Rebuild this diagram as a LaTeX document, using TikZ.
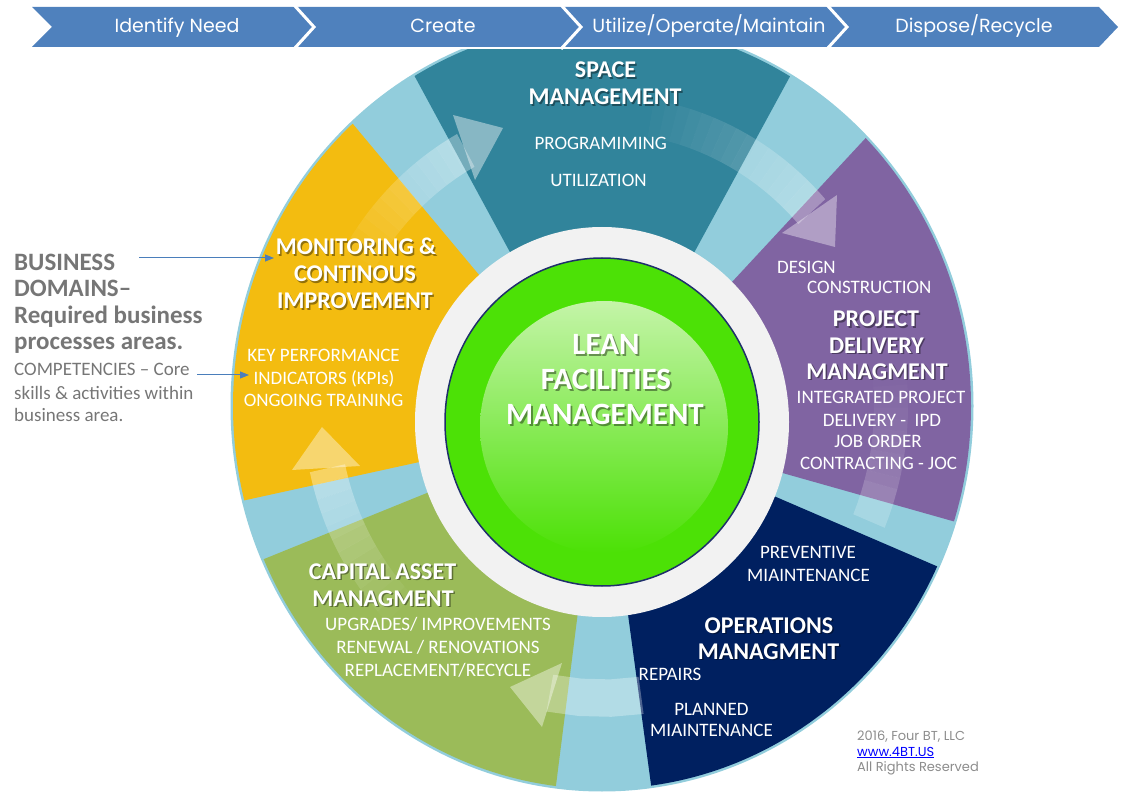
\documentclass[tikz,border=0pt]{standalone}
\usepackage{fontspec}
\setmainfont{Carlito}
\newfontfamily\gothic{Poppins}
\usetikzlibrary{arrows.meta}
\definecolor{banner}{HTML}{4F81BD}
\definecolor{lblue}{HTML}{92CDDC}
\definecolor{steal}{HTML}{31849B}
\definecolor{spurple}{HTML}{8064A2}
\definecolor{snavy}{HTML}{002060}
\definecolor{sgreen}{HTML}{9BBB59}
\definecolor{syellow}{HTML}{F3BC10}
\definecolor{ringgray}{HTML}{F2F2F2}
\definecolor{lime}{HTML}{4CE106}
\definecolor{limeline}{HTML}{1F2F6B}
\definecolor{hlA}{HTML}{C4F4A8}
\definecolor{hlB}{HTML}{86E858}
\definecolor{txtgray}{HTML}{767676}
\definecolor{arrowblue}{HTML}{4A7EBB}
\definecolor{cpgray}{HTML}{8C8C8C}

\newcommand{\segwedge}[3]{\fill[#1] (602,422) -- ({602+800*cos(#2)},{422-832*sin(#2)}) -- ({602+800*cos((#2+#3)/2)},{422-832*sin((#2+#3)/2)}) -- ({602+800*cos(#3)},{422-832*sin(#3)}) -- cycle;}
\newcommand{\shaft}[6]{%
\foreach \i in {1,...,#6}{%
 \pgfmathsetmacro{\angA}{#1+(#2-#1)*(\i-1)/#6}%
 \pgfmathsetmacro{\angB}{#1+(#2-#1)*\i/#6}%
 \pgfmathsetmacro{\opac}{#5*\i/#6}%
 \fill[white,fill opacity=\opac] plot[domain=\angA:\angB,samples=4] ({602+#4*cos(\x)},{406-1.04*#4*sin(\x)}) -- plot[domain=\angB:\angA,samples=4] ({602+#3*cos(\x)},{406-1.04*#3*sin(\x)}) -- cycle;}}

\tikzset{
  ttl/.style={text=white, font=\bfseries\fontsize{24}{27}\selectfont, anchor=base, inner sep=0pt},
  ttlsh/.style={ttl, text=black, text opacity=0.4, xshift=1.5pt, yshift=-1.5pt},
  big/.style={ttl, font=\bfseries\fontsize{31}{35}\selectfont},
  bigsh/.style={big, text=black, text opacity=0.4, xshift=1.8pt, yshift=-1.8pt},
  sub/.style={text=white, font=\fontsize{19}{23}\selectfont, anchor=base, inner sep=0pt},
  subw/.style={sub, anchor=base west},
  bnr/.style={text=white, font=\gothic\fontsize{19}{22}\selectfont, anchor=base, inner sep=0pt},
  lbold/.style={text=txtgray, font=\bfseries\fontsize{25}{27}\selectfont, anchor=base west, inner sep=0pt},
  lreg/.style={text=txtgray, font=\fontsize{19}{23}\selectfont, anchor=base west, inner sep=0pt},
  cpr/.style={text=cpgray, font=\gothic\fontsize{13}{15}\selectfont, anchor=base west, inner sep=0pt},
  pointer/.style={arrowblue, line width=1pt, -{Triangle[length=9pt,width=7pt]}}
}

\begin{document}
\begin{tikzpicture}[x=1pt,y=-1pt]
\useasboundingbox (0,0) rectangle (1128,799);

% ring and segments
\begin{scope}
\clip (0,50) rectangle (1128,799);
\fill[lblue] (602,406) ellipse [x radius=371.5pt, y radius=385.5pt];
\clip (602,406) ellipse [x radius=369pt, y radius=383pt];
\segwedge{steal}{60.5}{119.4}
\segwedge{spurple}{-15.2}{46}
\segwedge{snavy}{-82}{-22.5}
\segwedge{sgreen}{201.3}{262.5}
\segwedge{syellow}{131}{191.9}
\end{scope}

% cycle arrows
\shaft{152}{119}{263}{299}{0.33}{14}
\fill[white,fill opacity=0.42] (453,115) -- (503,128) -- (475,180) -- cycle;
\shaft{80}{41.7}{263}{299}{0.3}{16}
\fill[white,fill opacity=0.38] (837,195) -- (835,247) -- (782,233) -- cycle;
\shaft{6}{-15.2}{272}{306}{0.16}{10}
\shaft{-15.2}{-22.5}{272}{306}{0.2}{1}
\shaft{278}{259.3}{263}{299}{0.3}{1}
\fill[white,fill opacity=0.4] (562,663) -- (510,687) -- (542,727) -- cycle;
\shaft{224}{192.3}{263}{299}{0.35}{12}
\fill[white,fill opacity=0.4] (292,470) -- (322,427) -- (360,466) -- cycle;

% centre
\fill[ringgray] (602,422) ellipse [x radius=187pt, y radius=195pt];
\filldraw[fill=lime, draw=limeline, line width=1.5pt] (602,422) ellipse [x radius=157pt, y radius=164pt];
\shade[top color=hlA, middle color=hlB, bottom color=lime] (604,427) ellipse [x radius=124pt, y radius=126pt];

% banner
\fill[banner] (32,7) -- (1099,7) -- (1118,27) -- (1099,47) -- (32,47) -- (52,27) -- cycle;
\foreach \bx in {294,561,827} \draw[white, line width=3pt] (\bx,5) -- (\bx+20,27) -- (\bx,49);
\node[bnr] (b1) at (177,33) {Identify Need};
\node[bnr] (b2) at (443,33) {Create};
\node[bnr] (b3) at (709,33) {Utilize/Operate/Maintain};
\node[bnr] (b4) at (974,33) {Dispose/Recycle};

% space management
\node[ttlsh] (sp1s) at (605.5,78) {SPACE};
\node[ttl] (sp1) at (605.5,78) {SPACE};
\node[ttlsh] (sp2s) at (605,105) {MANAGEMENT};
\node[ttl] (sp2) at (605,105) {MANAGEMENT};
\node[sub] (sp3) at (600.7,150) {PROGRAMIMING};
\node[sub] (sp4) at (598.5,187) {UTILIZATION};

% monitoring
\node[ttlsh] (mo1s) at (356,255) {MONITORING \&};
\node[ttl] (mo1) at (356,255) {MONITORING \&};
\node[ttlsh] (mo2s) at (355,282) {CONTINOUS};
\node[ttl] (mo2) at (355,282) {CONTINOUS};
\node[ttlsh] (mo3s) at (355,309) {IMPROVEMENT};
\node[ttl] (mo3) at (355,309) {IMPROVEMENT};
\node[sub] (mo4) at (323.5,362) {KEY PERFORMANCE};
\node[sub] (mo5) at (324,385) {INDICATORS (KPIs)};
\node[sub] (mo6) at (323.5,407) {ONGOING TRAINING};

% project delivery
\node[subw] (pd1) at (777,273.3) {DESIGN};
\node[subw] (pd2) at (807,293.3) {CONSTRUCTION};
\node[ttlsh] (pd3s) at (876,326.7) {PROJECT};
\node[ttl] (pd3) at (876,326.7) {PROJECT};
\node[ttlsh] (pd4s) at (876.5,353.3) {DELIVERY};
\node[ttl] (pd4) at (876.5,353.3) {DELIVERY};
\node[ttlsh] (pd5s) at (877,379.3) {MANAGMENT};
\node[ttl] (pd5) at (877,379.3) {MANAGMENT};
\node[sub] (pd6) at (881,403.3) {INTEGRATED PROJECT};
\node[sub] (pd7) at (882,426.7) {DELIVERY -\ \ IPD};
\node[sub] (pd8) at (878,447.3) {JOB ORDER};
\node[sub] (pd9) at (878.5,470) {CONTRACTING - JOC};

% operations
\node[sub] (op1) at (808,558.3) {PREVENTIVE};
\node[sub] (op2) at (808.5,581.7) {MIAINTENANCE};
\node[ttlsh] (op3s) at (769,633.3) {OPERATIONS};
\node[ttl] (op3) at (769,633.3) {OPERATIONS};
\node[ttlsh] (op4s) at (768.5,659.3) {MANAGMENT};
\node[ttl] (op4) at (768.5,659.3) {MANAGMENT};
\node[sub] (op5) at (670,680) {REPAIRS};
\node[sub] (op6) at (711.5,715) {PLANNED};
\node[sub] (op7) at (711.5,736.7) {MIAINTENANCE};

% capital asset
\node[ttlsh] (ca1s) at (382.5,579.3) {CAPITAL ASSET};
\node[ttl] (ca1) at (382.5,579.3) {CAPITAL ASSET};
\node[ttlsh] (ca2s) at (383,606) {MANAGMENT};
\node[ttl] (ca2) at (383,606) {MANAGMENT};
\node[sub] (ca3) at (438,630) {UPGRADES/ IMPROVEMENTS};
\node[sub] (ca4) at (438,653.3) {RENEWAL / RENOVATIONS};
\node[sub] (ca5) at (438,676.7) {REPLACEMENT/RECYCLE};

% centre title
\node[bigsh] (ce1s) at (606,355) {LEAN};
\node[big] (ce1) at (606,355) {LEAN};
\node[bigsh] (ce2s) at (606,390) {FACILITIES};
\node[big] (ce2) at (606,390) {FACILITIES};
\node[bigsh] (ce3s) at (605,425) {MANAGEMENT};
\node[big] (ce3) at (605,425) {MANAGEMENT};

% left legend
\node[lbold] (l1) at (14,271) {BUSINESS};
\node[lbold] (l2) at (14,297) {DOMAINS–};
\node[lbold] (l3) at (14,323.5) {Required business};
\node[lbold] (l4) at (14,350) {processes areas.};
\node[lreg] (l5) at (14,376) {COMPETENCIES – Core};
\node[lreg] (l6) at (14,399.3) {skills \& activities within};
\node[lreg] (l7) at (14,421.7) {business area.};
\coordinate (ar1s) at (139,258);
\coordinate (ar1e) at (274,258);
\coordinate (ar2s) at (197,375);
\coordinate (ar2e) at (249,375);
\draw[pointer] (ar1s) -- (ar1e);
\draw[pointer] (ar2s) -- (ar2e);

% copyright
\node[cpr] (c1) at (857,740.7) {2016, Four BT, LLC};
\node[cpr, text=blue] (c2) at (857,756) {\underline{www.4BT.US}};
\node[cpr] (c3) at (857,771.7) {All Rights Reserved};
\end{tikzpicture}
\end{document}
